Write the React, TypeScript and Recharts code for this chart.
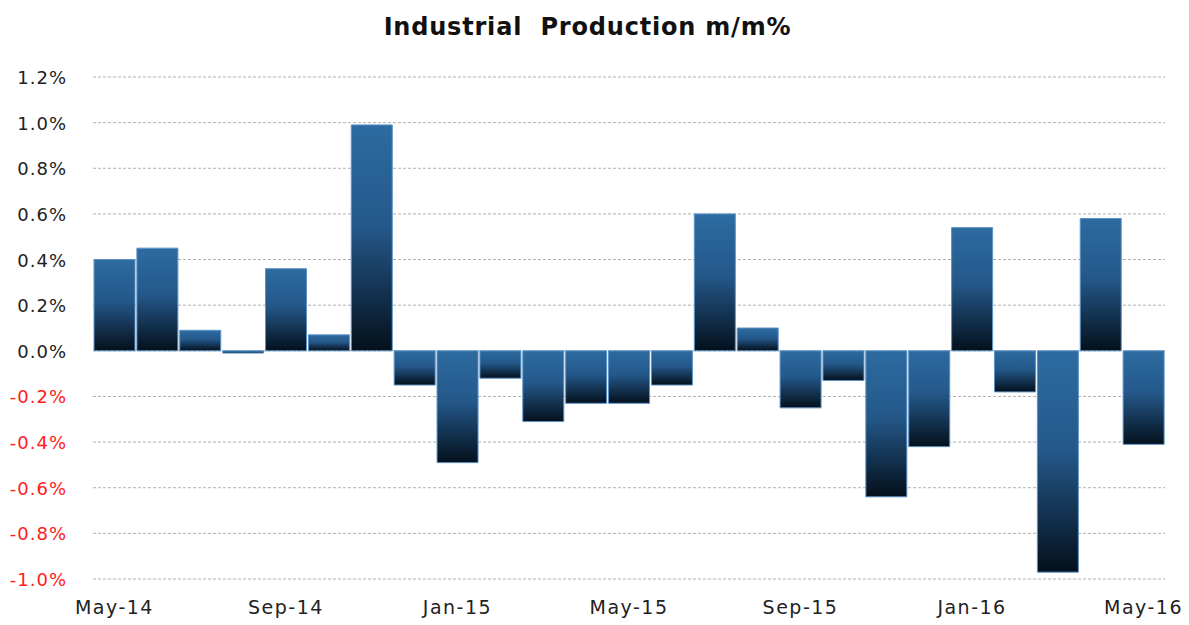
import { BarChart, Bar, XAxis, YAxis, CartesianGrid } from 'recharts';

const months = [
  'May-14', 'Jun-14', 'Jul-14', 'Aug-14', 'Sep-14', 'Oct-14', 'Nov-14', 'Dec-14',
  'Jan-15', 'Feb-15', 'Mar-15', 'Apr-15', 'May-15', 'Jun-15', 'Jul-15', 'Aug-15',
  'Sep-15', 'Oct-15', 'Nov-15', 'Dec-15', 'Jan-16', 'Feb-16', 'Mar-16', 'Apr-16', 'May-16',
];

const ipChange = [
  0.40, 0.45, 0.09, -0.01, 0.36, 0.07, 0.99, -0.15,
  -0.49, -0.12, -0.31, -0.23, -0.23, -0.15, 0.60, 0.10,
  -0.25, -0.13, -0.64, -0.42, 0.54, -0.18, -0.97, 0.58, -0.41,
];

const yTicks = [-1.0, -0.8, -0.6, -0.4, -0.2, 0, 0.2, 0.4, 0.6, 0.8, 1.0, 1.2];

const data = months.map((m, i) => ({ month: m, value: ipChange[i] }));

const font = '"DejaVu Sans", Verdana, sans-serif';

const YTick = ({ x, y, payload }: any) => {
  const v = payload.value;
  return (
    <text x={x} y={y} dy={7} textAnchor="end" fontFamily={font} fontSize={18}
      letterSpacing={1} fill={v < 0 ? '#ff2020' : '#222'}>
      {v.toFixed(1) + '%'}
    </text>
  );
};

export default function App() {
  return (
    <div style={{ position: 'absolute', left: 0, top: 0, width: 1189, height: 625, background: '#fff' }}>
      <div style={{
        position: 'absolute', left: 0, top: 13, width: 1175, textAlign: 'center',
        fontFamily: font, fontWeight: 'bold', fontSize: 24, color: '#111', letterSpacing: 0.8,
      }}>
        Industrial&nbsp; Production m/m%
      </div>
      <BarChart width={1189} height={625} data={data}
        margin={{ top: 77, right: 24, bottom: 0, left: 0 }}
        barCategoryGap={1}>
        <defs>
          <linearGradient id="barGrad" x1="0" y1="0" x2="0" y2="1">
            <stop offset="0%" stopColor="#2d6ba0" />
            <stop offset="45%" stopColor="#24588a" />
            <stop offset="100%" stopColor="#04101c" />
          </linearGradient>
        </defs>
        <CartesianGrid vertical={false} stroke="#b0b0b0" strokeDasharray="3 2" />
        <XAxis dataKey="month" interval={3} axisLine={false} tickLine={false} height={46}
          tick={{ fontFamily: font, fontSize: 19, fill: '#222', letterSpacing: 1.5 }} tickMargin={16} />
        <YAxis domain={[-1.0, 1.2]} ticks={yTicks} width={93} axisLine={false} tickLine={false}
          tick={<YTick />} tickMargin={20} interval={0} />
        <Bar dataKey="value" fill="url(#barGrad)" stroke="#5d93c8" strokeWidth={1}
          isAnimationActive={false} />
      </BarChart>
    </div>
  );
}
